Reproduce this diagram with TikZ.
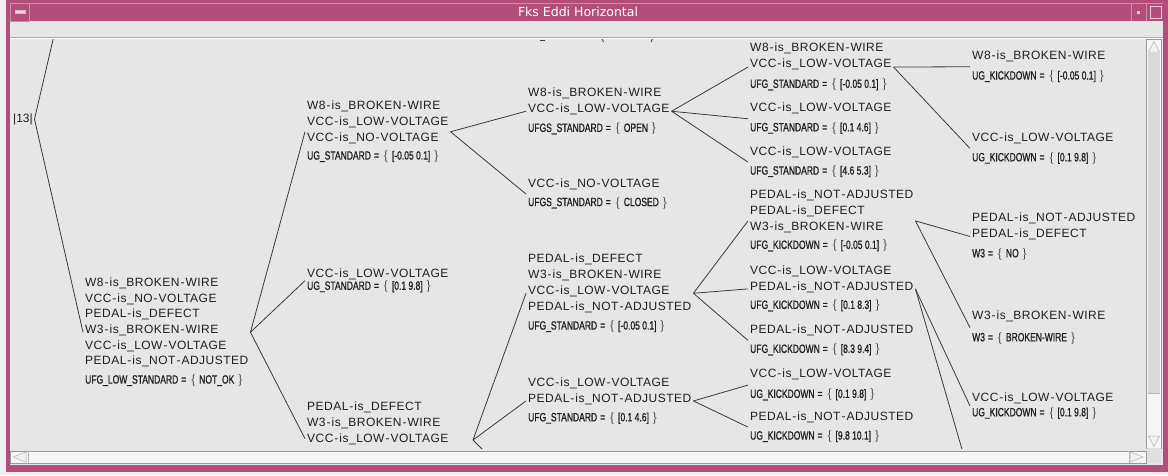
\documentclass[tikz,border=0pt]{standalone}
\usepackage{fontspec}
\setmainfont{Liberation Sans}
\newfontfamily\labfont[LetterSpace=4]{Liberation Sans}
\newfontfamily\condfont[FakeStretch=0.71,FakeBold=0.8]{Liberation Sans}
\newfontfamily\titlefont{DejaVu Sans}
\usetikzlibrary{calc}
\definecolor{winframe}{HTML}{B24E79}
\definecolor{wingray}{HTML}{E6E6E6}
\definecolor{ink}{HTML}{1E1E1E}
\definecolor{edgeink}{HTML}{3A3A3A}
\newcommand\hy{\kern1pt-\kern1pt}
\newcommand\sv[2]{{\condfont #1\kern3pt=\kern4pt$\{$\kern3pt#2\kern3pt$\}$}}
\tikzset{
  blk/.style={anchor=north west, align=left, inner xsep=2pt, inner ysep=0pt, text=ink,
              font=\labfont\fontsize{12}{16}\selectfont},
  conn/.style={draw=edgeink, line width=0.8pt},
  sbar/.style={draw=gray!80, line width=0.6pt},
}
\begin{document}
\begin{tikzpicture}[x=1pt,y=-1pt]
\useasboundingbox (0,0) rectangle (1168,475);
% window frame
\fill[gray!12] (0,0) rectangle (1168,475);
\fill[winframe] (6,0) rectangle (1168,472);
\fill[wingray] (10,21) rectangle (1163,465);
\draw[winframe!65!white, line width=0.6pt] (10,3) -- (1163,3);
\draw[winframe!65!white, line width=0.6pt] (10,3) rectangle (29,21);
\draw[winframe!40!white, fill=winframe!25!white, line width=0.5pt] (15,10) rectangle (25,13);
\draw[winframe!65!white, line width=0.6pt] (1131,3) -- (1131,21);
\draw[winframe!65!white, line width=0.6pt] (1146,3) -- (1146,21);
\fill[winframe!30!white] (1137,11) rectangle (1139.5,13.5);
\draw[winframe!30!white, line width=0.7pt] (1150,6) rectangle (1161,18);
\node[text=white, font=\titlefont\fontsize{12.5}{14}\selectfont] (title) at (578,12) {Fks Eddi Horizontal};
% toolbar separator
\draw[gray!65, line width=0.7pt] (10,37.5) -- (1163,37.5);
\draw[white, line width=0.5pt] (10,38.5) -- (1163,38.5);
% vertical scrollbar
\draw[sbar, fill=gray!8] (1146.5,39.5) rectangle (1161,448);
\fill[gray!30] (1147.5,53) rectangle (1160,393);
\draw[gray!55, line width=0.5pt] (1147.5,393) -- (1160,393);
\draw[gray!60, fill=gray!10, line width=0.5pt] (1148.5,52) -- (1154,41.5) -- (1159.5,52) -- cycle;
\draw[gray!60, fill=gray!10, line width=0.5pt] (1148.5,436) -- (1159.5,436) -- (1154,446.5) -- cycle;
% horizontal scrollbar
\draw[sbar, fill=gray!8] (10,451) rectangle (1146.5,463);
\draw[gray!55, line width=0.5pt] (28,451) -- (28,463);
\draw[gray!55, line width=0.5pt] (1129,451) -- (1129,463);
\draw[gray!60, fill=gray!10, line width=0.5pt] (13,457) -- (26,452) -- (26,462) -- cycle;
\draw[gray!60, fill=gray!10, line width=0.5pt] (1143,457) -- (1130,452) -- (1130,462) -- cycle;
\fill[gray!25] (1146.5,448) rectangle (1161,463);

\begin{scope}
\clip (10,39) rectangle (1145,448);
% fragments of text cut off at the top
\draw[edgeink, line width=0.8pt] (540,40) -- (545,40);
\draw[edgeink, line width=0.8pt] (602,39) -- (603.5,42);
\draw[edgeink, line width=0.8pt] (652.5,39) -- (651,42);

% nodes
\node[anchor=base west, inner xsep=1.5pt, inner ysep=0pt, text=ink, font=\fontsize{12}{16}\selectfont] (root) at (11.5,122.3) {|13|};

\node[blk, font=\labfont\fontsize{12}{15.6}\selectfont] (B2) at (83,277.7) {W8\hy is\_BROKEN\hy WIRE\\VCC\hy is\_NO\hy VOLTAGE\\PEDAL\hy is\_DEFECT\\W3\hy is\_BROKEN\hy WIRE\\VCC\hy is\_LOW\hy VOLTAGE\\PEDAL\hy is\_NOT\hy ADJUSTED\\[3.4pt]\sv{UFG\_LOW\_STANDARD}{NOT\_OK}};

\node[blk] (A) at (305,100.7) {W8\hy is\_BROKEN\hy WIRE\\VCC\hy is\_LOW\hy VOLTAGE\\VCC\hy is\_NO\hy VOLTAGE\\[2pt]\sv{UG\_STANDARD}{[-0.05 0.1]}};
\node[blk] (B) at (305,268.4) {VCC\hy is\_LOW\hy VOLTAGE\\[-3.5pt]\sv{UG\_STANDARD}{[0.1 9.8]}};
\node[blk] (C) at (305,401.7) {PEDAL\hy is\_DEFECT\\W3\hy is\_BROKEN\hy WIRE\\VCC\hy is\_LOW\hy VOLTAGE};
\coordinate (Cout) at (473,440);

\node[blk] (D) at (526,87.4) {W8\hy is\_BROKEN\hy WIRE\\VCC\hy is\_LOW\hy VOLTAGE\\[3.6pt]\sv{UFGS\_STANDARD}{OPEN}};
\node[blk] (E) at (526,178.7) {VCC\hy is\_NO\hy VOLTAGE\\[2.5pt]\sv{UFGS\_STANDARD}{CLOSED}};
\node[blk] (F) at (526,253.7) {PEDAL\hy is\_DEFECT\\W3\hy is\_BROKEN\hy WIRE\\VCC\hy is\_LOW\hy VOLTAGE\\PEDAL\hy is\_NOT\hy ADJUSTED\\[3pt]\sv{UFG\_STANDARD}{[-0.05 0.1]}};
\node[blk] (G) at (526,377.4) {VCC\hy is\_LOW\hy VOLTAGE\\PEDAL\hy is\_NOT\hy ADJUSTED\\[3pt]\sv{UFG\_STANDARD}{[0.1 4.6]}};

\node[blk] (H) at (748,43) {W8\hy is\_BROKEN\hy WIRE\\VCC\hy is\_LOW\hy VOLTAGE\\[4pt]\sv{UFG\_STANDARD}{[-0.05 0.1]}};
\node[blk] (I) at (748,103) {VCC\hy is\_LOW\hy VOLTAGE\\[3.4pt]\sv{UFG\_STANDARD}{[0.1 4.6]}};
\node[blk] (J) at (748,146.4) {VCC\hy is\_LOW\hy VOLTAGE\\[3.3pt]\sv{UFG\_STANDARD}{[4.6 5.3]}};
\node[blk] (K) at (748,189.7) {PEDAL\hy is\_NOT\hy ADJUSTED\\PEDAL\hy is\_DEFECT\\W3\hy is\_BROKEN\hy WIRE\\[2.3pt]\sv{UFG\_KICKDOWN}{[-0.05 0.1]}};
\node[blk] (L) at (748,265.7) {VCC\hy is\_LOW\hy VOLTAGE\\PEDAL\hy is\_NOT\hy ADJUSTED\\[2.3pt]\sv{UFG\_KICKDOWN}{[0.1 8.3]}};
\node[blk] (M) at (748,324.7) {PEDAL\hy is\_NOT\hy ADJUSTED\\[3.3pt]\sv{UFG\_KICKDOWN}{[8.3 9.4]}};
\node[blk] (N) at (748,369) {VCC\hy is\_LOW\hy VOLTAGE\\[4pt]\sv{UG\_KICKDOWN}{[0.1 9.8]}};
\node[blk] (O) at (748,411.4) {PEDAL\hy is\_NOT\hy ADJUSTED\\[3.3pt]\sv{UG\_KICKDOWN}{[9.8 10.1]}};

\node[blk] (P) at (970,50.7) {W8\hy is\_BROKEN\hy WIRE\\[4pt]\sv{UG\_KICKDOWN}{[-0.05 0.1]}};
\node[blk] (Q) at (970,132.4) {VCC\hy is\_LOW\hy VOLTAGE\\[4pt]\sv{UG\_KICKDOWN}{[0.1 9.8]}};
\node[blk] (R) at (970,212.4) {PEDAL\hy is\_NOT\hy ADJUSTED\\PEDAL\hy is\_DEFECT\\[4pt]\sv{W3}{NO}};
\node[blk] (S) at (970,310.7) {W3\hy is\_BROKEN\hy WIRE\\[5.7pt]\sv{W3}{BROKEN-WIRE}};
\node[blk] (T) at (970,392.4) {VCC\hy is\_LOW\hy VOLTAGE\\[-1pt]\sv{UG\_KICKDOWN}{[0.1 9.8]}};

% free ends running out of the visible canvas
\coordinate (Roff) at (57.6,20);
\coordinate (Coff) at (493,460);
\coordinate (Loff) at (968,470);

% connectors
\draw[conn] (root.east) -- (Roff);
\draw[conn] (root.east) -- (B2.west);
\draw[conn] (B2.east) -- (A.west);
\draw[conn] (B2.east) -- (B.west);
\draw[conn] (B2.east) -- ([yshift=6.5pt]C.south west);
\draw[conn] (A.east) -- (D.west);
\draw[conn] (A.east) -- (E.west);
\draw[conn] (Cout) -- (F.west);
\draw[conn] (Cout) -- (G.west);
\draw[conn] (Cout) -- (Coff);
\draw[conn] (D.east) -- (H.west);
\draw[conn] (D.east) -- (I.west);
\draw[conn] (D.east) -- (J.west);
\draw[conn] (F.east) -- (K.west);
\draw[conn] (F.east) -- (L.west);
\draw[conn] (F.east) -- (M.west);
\draw[conn] (G.east) -- (N.west);
\draw[conn] (G.east) -- (O.west);
\draw[conn] (H.east) -- (P.west);
\draw[conn] (H.east) -- (Q.west);
\draw[conn] (K.east) -- (R.west);
\draw[conn] (K.east) -- (S.west);
\draw[conn] (L.east) -- (T.west);
\draw[conn] (L.east) -- (Loff);
\end{scope}
\end{tikzpicture}
\end{document}
